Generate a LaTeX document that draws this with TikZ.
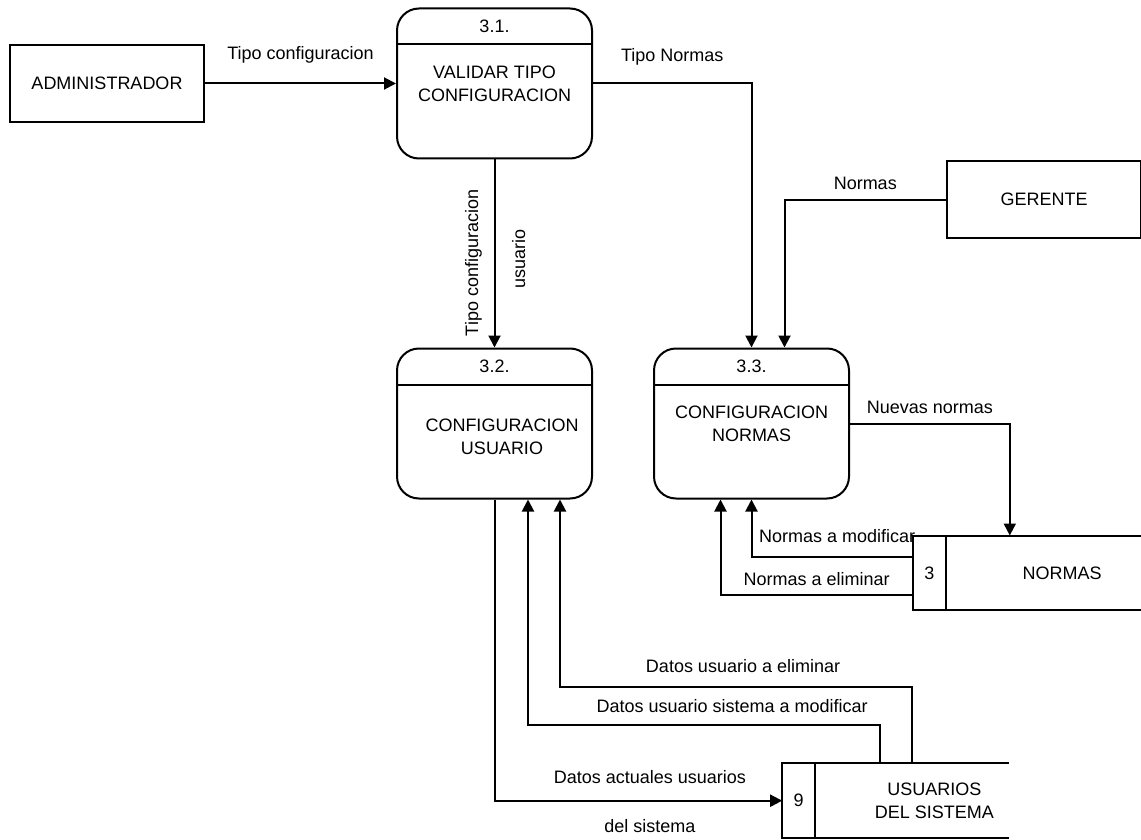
\documentclass[tikz,border=0pt]{standalone}
\usepackage{fontspec}
\setmainfont{Liberation Sans}
\usetikzlibrary{positioning, arrows.meta, calc}

\begin{document}
\begin{tikzpicture}[
    font=\fontsize{9}{11.5}\selectfont,
    entity/.style={draw, line width=1pt, minimum width=97pt, minimum height=38.5pt, align=center},
    proc/.style={draw, line width=1pt, rounded corners=11pt, minimum width=97.5pt, minimum height=75pt, align=center},
    procid/.style={inner sep=1pt},
    storeid/.style={minimum width=16pt, minimum height=37pt, inner sep=0pt},
    storetxt/.style={minimum height=37pt, align=center, inner sep=0pt},
    arrow/.style={-{Triangle[length=6pt, width=6pt]}, line width=1pt}
]
    \useasboundingbox (0,0) rectangle (570.5pt,-420pt);

    % Entities and processes
    \node[entity] (ADMIN) at (53.5pt,-41.75pt) {ADMINISTRADOR};
    \node[proc, right=95.5pt of ADMIN] (P31) {VALIDAR TIPO\\CONFIGURACION};
    \node[proc, below=94pt of P31] (P32) {};
    \node[proc, right=30pt of P32] (P33) {CONFIGURACION\\NORMAS};
    \node[entity, below right=38.25pt and 176.5pt of P31.east] (GER) {GERENTE};

    \node (P32txt) at ($(P32.center)+(3.75pt,-6.5pt)$) [align=center] {CONFIGURACION\\USUARIO};

    % Process numbers
    \node[procid] (P31id) at ($(P31.north)+(0,-9.5pt)$) {3.1.};
    \node[procid] (P32id) at ($(P32.north)+(0,-9.5pt)$) {3.2.};
    \node[procid] (P33id) at ($(P33.north)+(0,-9.5pt)$) {3.3.};
    \draw[line width=1pt] ($(P31.north west)+(0,-18.5pt)$) -- ($(P31.north east)+(0,-18.5pt)$);
    \draw[line width=1pt] ($(P32.north west)+(0,-18.5pt)$) -- ($(P32.north east)+(0,-18.5pt)$);
    \draw[line width=1pt] ($(P33.north west)+(0,-18.5pt)$) -- ($(P33.north east)+(0,-18.5pt)$);

    % Data stores
    \node[storeid, below right=18pt and 31.5pt of P33.south east] (NID) {3};
    \node[storetxt, right=0pt of NID, minimum width=116pt] (NOR) {NORMAS};
    \draw[line width=1pt] (NID.north west) rectangle (NOR.south east);
    \draw[line width=1pt] (NID.north east) -- (NID.south east);

    \node[storeid, below left=76.5pt and 49pt of NID.south west] (S9) {9};
    \node[storetxt, right=0pt of S9, minimum width=119pt] (USU) {USUARIOS\\DEL SISTEMA};
    \coordinate (USUend) at ($(S9.north east)+(97pt,0)$);
    \draw[line width=1pt] (USUend) -- (S9.north west) -- (S9.south west) -- (USUend |- S9.south);
    \draw[line width=1pt] (S9.north east) -- (S9.south east);

    % Flows
    \draw[arrow] (ADMIN) -- node[above=6.5pt] {Tipo configuracion} (P31);
    \draw[arrow] (P31) -| node[pos=0.25, above=5.5pt] {Tipo Normas} (P33);
    \draw[arrow] (P31) -- node[pos=0.55, xshift=-2.5pt, rotate=90, anchor=south] {Tipo configuracion}
        node[pos=0.53, xshift=5pt, rotate=90, anchor=north] {usuario} (P32);
    \draw[arrow] (GER) -| node[pos=0.25, above=1pt] {Normas} ([xshift=16.5pt]P33.north);
    \draw[arrow] (P33) -| node[pos=0.25, above=1pt] {Nuevas normas} ([xshift=32pt]NID.north east);
    \draw[arrow] ([yshift=7.75pt]NID.west) -| node[pos=0.5, anchor=south west, yshift=3.5pt] {Normas a modificar} (P33.south);
    \draw[arrow] ([yshift=-11pt]NID.west) -| node[pos=0.25, above=1pt] {Normas a eliminar} ([xshift=-15.5pt]P33.south);

    \draw[arrow] ([xshift=48.5pt]USU.north west) -- ++(0,38pt)
        -| node[pos=0.24, above=3.5pt] {Datos usuario a eliminar} ([xshift=32.75pt]P32.south);
    \draw[arrow] ([xshift=32.5pt]USU.north west) -- ++(0,19pt)
        -| node[pos=0.21, above=2.5pt] {Datos usuario sistema a modificar} ([xshift=16.75pt]P32.south);
    \draw[arrow] (P32.south) |- node[pos=0.77, above=4.5pt] {Datos actuales usuarios}
        node[pos=0.77, below=5.5pt] {del sistema} (S9.west);

\end{tikzpicture}
\end{document}
